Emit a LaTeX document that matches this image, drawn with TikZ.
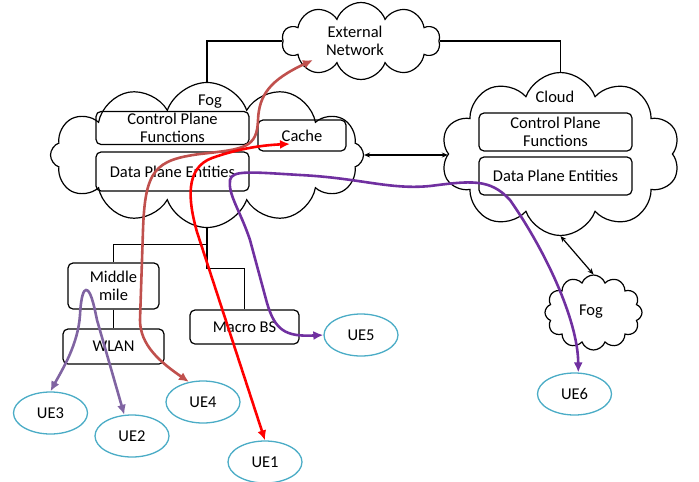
\documentclass[tikz,border=0pt]{standalone}
\usepackage{fontspec}
\setmainfont{Carlito}
\usetikzlibrary{shapes.symbols,shapes.geometric,arrows.meta}

\definecolor{uecol}{HTML}{4BACC6}
\definecolor{brownc}{HTML}{C0504D}
\definecolor{redc}{HTML}{FF0000}
\definecolor{purplec}{HTML}{7030A0}
\definecolor{lpurplec}{HTML}{8064A2}

\tikzset{
  box/.style={draw, rounded corners=5pt, line width=1.2pt, align=center, inner sep=0pt},
  ue/.style={ellipse, draw=uecol, line width=1.3pt, minimum width=74pt, minimum height=42pt, inner sep=0pt},
  cloudy/.style={cloud, draw, cloud ignores aspect, cloud puff arc=140, line width=1.2pt, inner sep=0pt},
  link/.style={line width=1.2pt},
  biarrow/.style={link, arrows={Stealth[length=6pt,width=5pt]-Stealth[length=6pt,width=5pt]}},
  flow/.style={line width=2.6pt, line cap=round, arrows={Latex[length=10pt,width=9pt]-Latex[length=10pt,width=9pt]}}
}

\begin{document}
\begin{tikzpicture}[x=1pt, y=-1pt, font=\fontsize{16.5}{18}\selectfont]
\useasboundingbox (0,0) rectangle (699,482);

% Clouds
\node[cloudy, cloud puffs=10, minimum width=158pt, minimum height=77pt] (ext) at (361,41) {};
\node[cloudy, cloud puffs=12, minimum width=313pt, minimum height=145pt] (fogc) at (207,155) {};
\node[cloudy, cloud puffs=10, minimum width=239pt, minimum height=163pt] (cloudc) at (560.5,154) {};
\node[cloudy, cloud puffs=12, minimum width=97pt, minimum height=75pt] (sfog) at (593.5,312.5) {};

\node (extlabel) at (355,41) [align=center] {External\\Network};
\node (foglabel) at (210,102) {Fog};
\node (cloudlabel) at (555,97) {Cloud};
\node (sfoglabel) at (591,312) {Fog};

% Boxes
\node[box, minimum width=153pt, minimum height=33pt] (fogcp) at (172.5,128) {Control Plane\\Functions};
\node[box, minimum width=153pt, minimum height=39pt] (fogdp) at (172.5,171.5) {Data Plane Entities};
\node[box, minimum width=88pt, minimum height=31pt] (cache) at (302,135.5) {Cache};
\node[box, minimum width=153pt, minimum height=38pt] (cloudcp) at (555.5,132) {Control Plane\\Functions};
\node[box, minimum width=153pt, minimum height=38pt] (clouddp) at (555.5,176) {Data Plane Entities};
\node[box, minimum width=91pt, minimum height=46pt] (mm) at (113.5,286) {Middle\\mile};
\node[box, minimum width=101pt, minimum height=35pt] (wlan) at (113.5,346.5) {WLAN};
\node[box, minimum width=109pt, minimum height=34pt] (mbs) at (244.5,327) {Macro BS};

% UEs
\node[ue] (ue1) at (265,462) {UE1};
\node[ue] (ue2) at (132,436) {UE2};
\node[ue] (ue3) at (50.5,413) {UE3};
\node[ue] (ue4) at (203,402) {UE4};
\node[ue] (ue5) at (361,335) {UE5};
\node[ue] (ue6) at (574.5,394) {UE6};

% Black links
\draw[link] (fogc.north) |- (ext.west);
\draw[link] (ext.east) -| (cloudc.north);
\draw[biarrow] (fogc.east) -- (fogc.east -| cloudc.west);
\draw[biarrow] (cloudc.south) -- (sfog.north);
\draw[link] (fogc.south) -- ++(0,16) coordinate (split) -| (mm.north);
\draw[link] (split) -- ++(0,24) -| (mbs.north);
\draw[link] (mm.south) -- (wlan.north);

% Flows
\coordinate (extin) at (313,60);
\coordinate (cachein) at (290,144);
\draw[flow, brownc] (ue4.125) .. controls (160,362) and (140,345) .. (140,320) -- (143,230)
  .. controls (145,170) and (155,160) .. (200,154) .. controls (245,149) and (257,148) .. (258,120)
  .. controls (259,95) and (270,80) .. (extin);
\draw[flow, redc] (ue1.north) -- (197,232) .. controls (188,200) and (185,168) .. (212,158)
  .. controls (240,148) and (265,145) .. (cachein);
\draw[flow, purplec] (ue5.west) .. controls (285,337) and (275,330) .. (267,303) -- (250,240)
  .. controls (240,210) and (228,195) .. (230,180) .. controls (232,170) and (250,172) .. (300,175)
  .. controls (360,178) and (390,190) .. (430,186) .. controls (470,181) and (490,178) .. (510,200)
  .. controls (545,250) and (578,320) .. (ue6.80);
\draw[flow, lpurplec] (ue3.north) .. controls (62,370) and (78,345) .. (80,315)
  .. controls (81,295) and (84,290) .. (86,290) .. controls (90,290) and (93,300) .. (97,320)
  -- (ue2.110);
\end{tikzpicture}
\end{document}
